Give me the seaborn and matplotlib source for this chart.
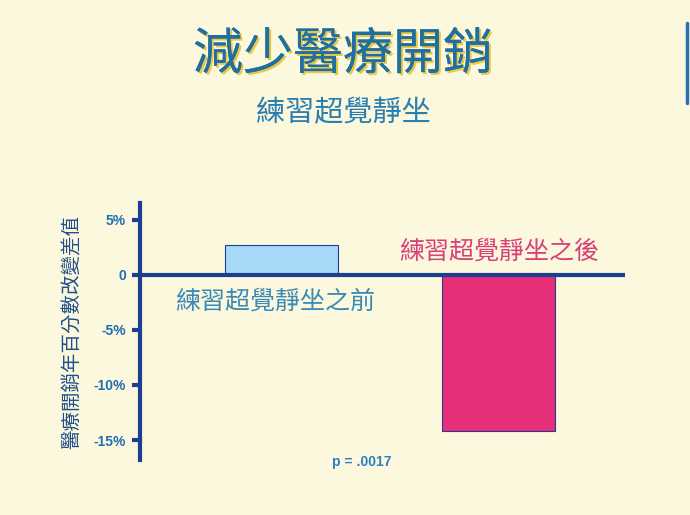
import numpy as np
import pandas as pd
import seaborn as sns
import matplotlib.pyplot as plt
import matplotlib.patheffects as pe

# data
groups = ["練習超覺靜坐之前", "練習超覺靜坐之後"]
changes = [2.7, -14.2]
bar_colors = ["#A6D8F7", "#E8307A"]
yticks = [-15, -10, -5, 0, 5]
ytick_labels = ["-15%", "-10%", "-5%", "0", "5%"]

df = pd.DataFrame({"group": groups, "change": changes})

sns.set_theme(style="white")
plt.rcParams['font.family'] = ['Noto Sans CJK TC', 'DejaVu Sans']

navy = "#1C3F8F"
fig = plt.figure(figsize=(6.9, 5.15), dpi=100, facecolor="#FCF8DE")
ax = fig.add_axes([0.2029, 0.1068, 0.7029, 0.499])
ax.set_facecolor("none")

sns.barplot(data=df, x="group", y="change", hue="group", palette=bar_colors,
            saturation=1, width=0.52, legend=False, ax=ax, edgecolor=navy, linewidth=0.8)

ax.set_xlim(-0.65, 1.58)
ax.set_ylim(-16.8, 6.5)
ax.axhline(0, color=navy, lw=3, zorder=3)

for s in ["top", "right", "bottom"]:
    ax.spines[s].set_visible(False)
ax.spines["left"].set_color(navy)
ax.spines["left"].set_linewidth(3)

ax.set_xticks([])
ax.set_xlabel("")
ax.set_yticks(yticks)
ax.set_yticklabels(ytick_labels, fontsize=10, fontweight="bold", color="#2070B0",
                   family=["Liberation Sans", "DejaVu Sans"])
ax.tick_params(axis="y", left=True, length=6, width=3, color=navy, pad=4)
ax.set_ylabel("醫療開銷年百分數改變差值", fontsize=14, color="#1F4E8C", labelpad=8)

# bar labels
ax.text(-0.03, -2.4, groups[0], fontsize=18, color="#3A8AB8", ha="center", va="center")
ax.text(1.0, 2.1, groups[1], fontsize=18, color="#D8407A", ha="center", va="center")
ax.text(0.37, -17.0, "p = .0017", fontsize=10, fontweight="bold", color="#2A80C0",
        ha="center", va="center", family=["Liberation Sans", "DejaVu Sans"], clip_on=False)

# titles
fig.text(0.497, 0.893, "減少醫療開銷", fontsize=36, color="#1F6FA0", ha="center", va="center",
         path_effects=[pe.withSimplePatchShadow(offset=(1.5, -1.5), shadow_rgbFace="#E8C84A", alpha=1.0),
                       pe.Normal()])
fig.text(0.497, 0.78, "練習超覺靜坐", fontsize=21, color="#2A7FB0", ha="center", va="center")

# slide decoration on right edge
fig.add_artist(plt.Line2D([0.995, 0.995], [0.8, 0.955], color="#2A6FB0", lw=2.5))

fig.savefig("out.png", dpi=100, facecolor=fig.get_facecolor())
